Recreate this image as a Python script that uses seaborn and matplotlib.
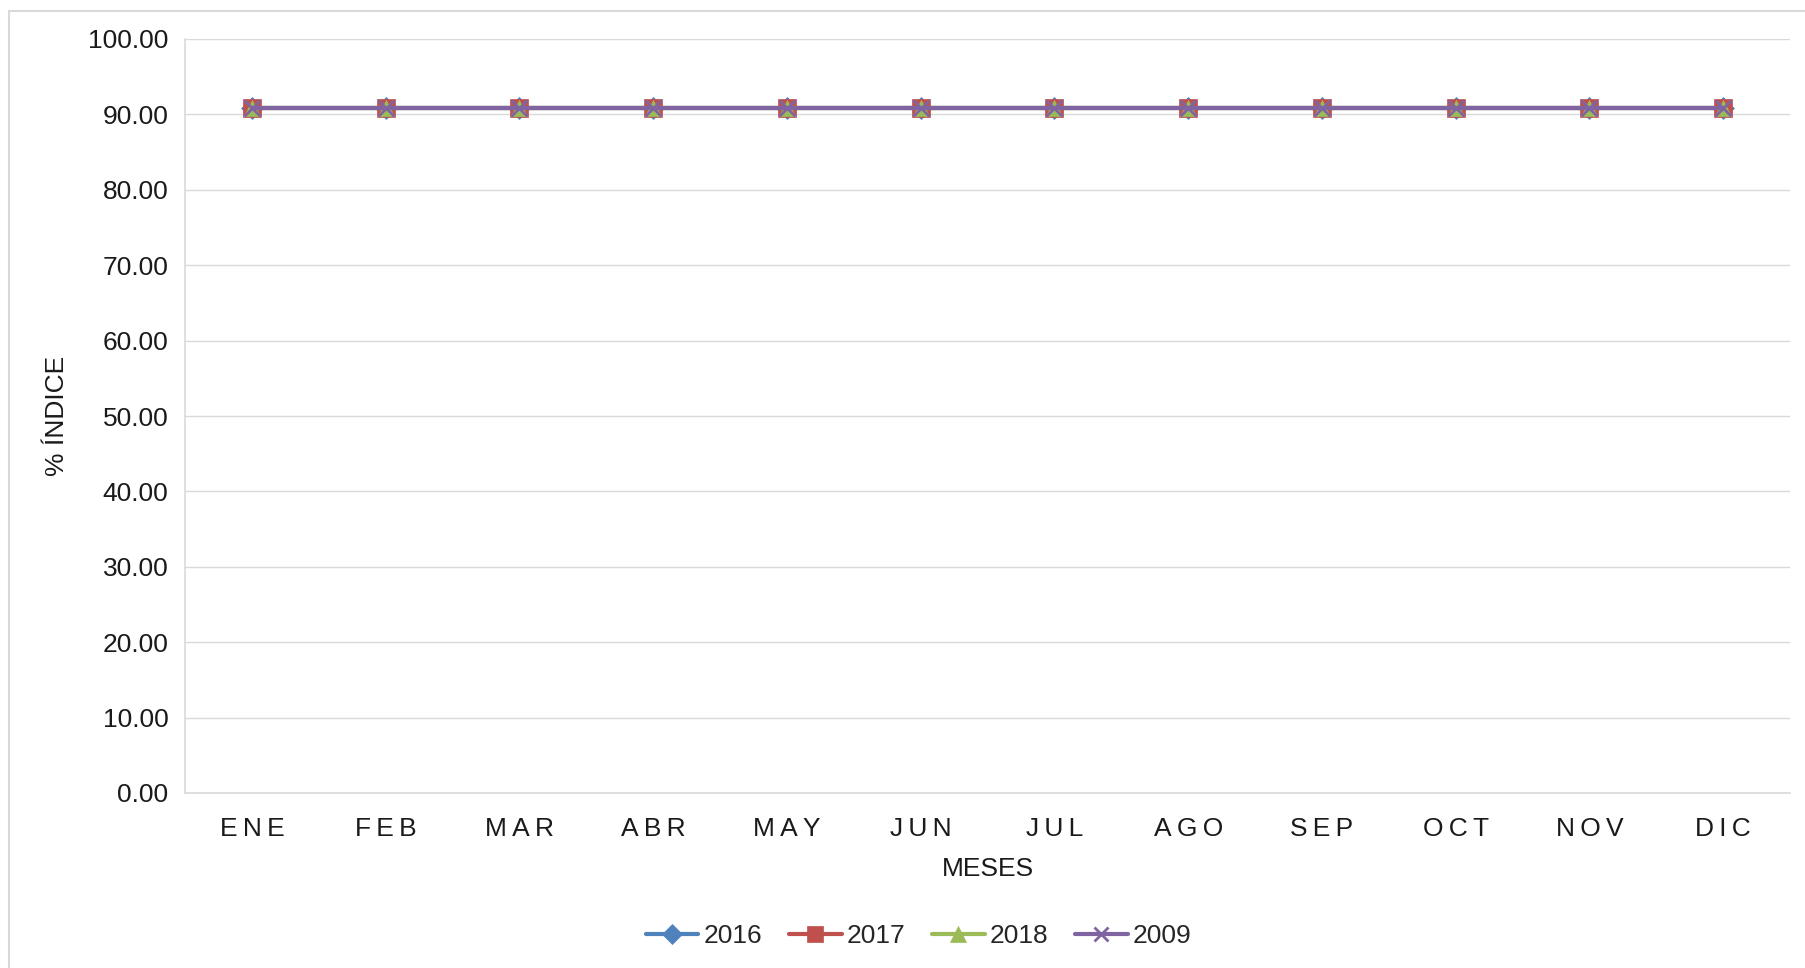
import pandas as pd
import matplotlib.pyplot as plt
import matplotlib.lines as mlines
import seaborn as sns

# data
meses = ["ENE", "FEB", "MAR", "ABR", "MAY", "JUN", "JUL", "AGO", "SEP", "OCT", "NOV", "DIC"]
years = ["2016", "2017", "2018", "2009"]
v2016 = [90.9] * 12
v2017 = [90.9] * 12
v2018 = [90.9] * 12
v2009 = [90.9] * 12
yticks = [0, 10, 20, 30, 40, 50, 60, 70, 80, 90, 100]

colors = {"2016": "#4F81BD", "2017": "#C0504D", "2018": "#9BBB59", "2009": "#8064A2"}
markers = {"2016": "D", "2017": "s", "2018": "^", "2009": "x"}
msizes = {"2016": 11, "2017": 13, "2018": 12, "2009": 11}

df = pd.DataFrame({
    "mes": meses * 4,
    "anio": sum([[y] * 12 for y in years], []),
    "valor": v2016 + v2017 + v2018 + v2009,
})

sns.set_theme(style="white")
plt.rcParams['font.family'] = ['Liberation Sans', 'DejaVu Sans']
FS = 19

fig, ax = plt.subplots(figsize=(18.05, 9.68), dpi=100)
fig.subplots_adjust(left=185 / 1805, right=1790 / 1805, top=1 - 39 / 968, bottom=1 - 793 / 968)

# draw each series (later ones on top, like the original)
for y in years:
    sub = df[df["anio"] == y]
    sns.lineplot(data=sub, x="mes", y="valor", sort=False, ax=ax,
                 color=colors[y], linewidth=3, marker=markers[y],
                 markersize=msizes[y], markeredgecolor=colors[y],
                 markeredgewidth=2 if y == "2009" else 0.5, legend=False)

ax.set_xlim(-0.5, len(meses) - 0.5)
ax.set_ylim(0, 100)
ax.set_yticks(yticks)
ax.set_yticklabels([f"{t:.2f}" for t in yticks], fontsize=FS, color="#1a1a1a")
ax.set_xticks(range(len(meses)))
ax.set_xticklabels(["\u2009".join(m) for m in meses], fontsize=FS, color="#1a1a1a")
ax.tick_params(axis="y", length=0, pad=12)
ax.tick_params(axis="x", length=0, pad=17)
ax.grid(axis="y", color="#D9D9D9", linewidth=1)
for s in ["top", "right"]:
    ax.spines[s].set_visible(False)
for s in ["left", "bottom"]:
    ax.spines[s].set_color("#D9D9D9")
    ax.spines[s].set_linewidth(1.2)

ax.set_xlabel("MESES", fontsize=FS, color="#1a1a1a", labelpad=12)
ax.set_ylabel("% ÍNDICE", fontsize=FS, color="#1a1a1a", labelpad=14)

handles = [mlines.Line2D([], [], color=colors[y], marker=markers[y], linewidth=3,
                         markersize=msizes[y] - 1, markeredgewidth=2 if y == "2009" else 0.5)
           for y in years]
fig.legend(handles, years, loc="center", bbox_to_anchor=(0.509, 1 - 936 / 968), ncol=4,
           frameon=False, fontsize=FS, handlelength=2.0, handletextpad=0.2, columnspacing=1.0)

# light outer border like the chart area frame
fig.add_artist(mlines.Line2D([9 / 1805, 9 / 1805], [0, 1 - 11 / 968], color="#D9D9D9", linewidth=1.5))
fig.add_artist(mlines.Line2D([9 / 1805, 1], [1 - 11 / 968, 1 - 11 / 968], color="#D9D9D9", linewidth=1.5))

plt.savefig("out.png", dpi=100)
plt.close()
